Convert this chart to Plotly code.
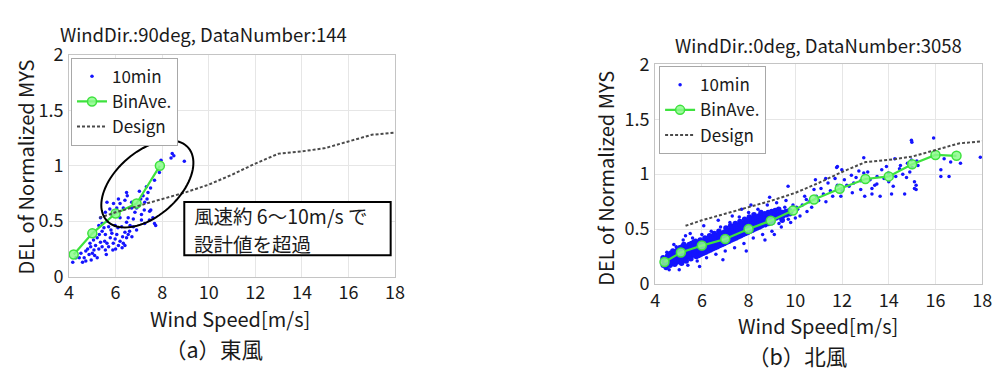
import numpy as np
import plotly.graph_objects as go

# ---------------- data ----------------
design_x = [5.3, 6.0, 7.0, 8.0, 9.0, 10.0, 11.0, 12.0, 13.0, 14.0, 15.0, 16.0, 17.0, 18.0]
design_y = [0.53, 0.58, 0.64, 0.70, 0.76, 0.83, 0.92, 1.02, 1.11, 1.13, 1.16, 1.22, 1.28, 1.30]

east_bin_x = [4.2, 5.0, 6.0, 6.9, 7.9]
east_bin_y = [0.20, 0.39, 0.57, 0.66, 1.00]

north_bin_x = [4.4, 5.1, 6.0, 7.0, 8.0, 8.95, 9.9, 10.8, 11.9, 13.0, 14.0, 15.0, 16.0, 16.9]
north_bin_y = [0.20, 0.287, 0.35, 0.41, 0.50, 0.577, 0.67, 0.77, 0.867, 0.956, 0.98, 1.09, 1.175, 1.167]

east_10min = [
    (8.43, 1.11), (8.50, 1.09), (8.38, 1.07), (8.95, 1.04), (7.95, 1.05), (7.88, 0.94),
    (7.67, 0.87), (7.50, 0.80), (7.32, 0.81), (7.39, 0.76), (7.18, 0.73), (7.25, 0.67),
    (7.08, 0.70), (6.47, 0.76), (6.50, 0.73), (6.40, 0.69), (6.69, 0.67), (6.12, 0.70),
    (6.19, 0.66), (5.91, 0.66), (5.63, 0.67), (6.33, 0.62), (6.90, 0.62), (6.69, 0.62),
    (6.83, 0.58), (7.11, 0.56), (7.46, 0.59), (7.60, 0.53), (7.67, 0.48), (7.11, 0.51),
    (7.25, 0.48), (6.76, 0.52), (6.54, 0.53), (6.47, 0.49), (6.76, 0.45), (6.90, 0.42),
    (6.19, 0.53), (5.84, 0.56), (5.98, 0.59), (5.56, 0.58), (5.35, 0.53), (5.28, 0.46),
    (5.42, 0.48), (5.63, 0.50), (5.70, 0.45), (5.98, 0.46), (6.26, 0.45), (7.51, 0.60),
    (7.23, 0.60), (7.72, 0.46), (5.84, 0.39), (6.05, 0.38), (6.19, 0.32), (6.33, 0.30),
    (6.47, 0.35), (6.54, 0.38), (6.40, 0.28), (6.12, 0.28), (5.98, 0.34), (5.77, 0.35),
    (5.56, 0.38), (5.42, 0.41), (5.53, 0.32), (5.63, 0.30), (5.35, 0.31), (5.21, 0.35),
    (5.14, 0.28), (5.28, 0.25), (5.42, 0.27), (5.56, 0.24), (5.07, 0.24), (4.93, 0.27),
    (5.00, 0.21), (4.86, 0.20), (4.72, 0.23), (4.65, 0.17), (4.51, 0.21), (4.44, 0.17),
    (4.72, 0.14), (4.58, 0.13), (4.30, 0.17), (4.16, 0.13), (5.21, 0.17), (5.10, 0.19),
    (4.90, 0.30), (5.05, 0.33), (5.70, 0.27), (5.90, 0.30), (6.00, 0.25), (6.60, 0.41),
    (6.30, 0.36), (5.30, 0.38), (4.80, 0.25), (5.50, 0.44), (6.10, 0.44), (6.40, 0.40),
    (4.95, 0.15), (5.60, 0.20), (5.80, 0.42), (6.70, 0.36), (7.02, 0.77), (7.35, 0.70),
    (6.05, 0.62), (5.75, 0.61), (7.45, 0.51), (6.62, 0.46), (5.88, 0.24), (6.28, 0.26),
]

north_10min_core = [
    (4.35, 0.17), (4.37, 0.21), (4.34, 0.24), (4.45, 0.19), (4.47, 0.15), (4.44, 0.23),
    (4.55, 0.18), (4.57, 0.22), (4.54, 0.26), (4.58, 0.20), (4.65, 0.20), (4.67, 0.24),
    (4.64, 0.17), (4.66, 0.28), (4.75, 0.22), (4.77, 0.19), (4.74, 0.26), (4.76, 0.30),
    (4.85, 0.21), (4.87, 0.25), (4.84, 0.18), (4.86, 0.29), (4.95, 0.23), (4.97, 0.27),
    (4.94, 0.20), (4.96, 0.31), (5.05, 0.24), (5.07, 0.28), (5.04, 0.21), (5.06, 0.33),
    (5.15, 0.26), (5.17, 0.22), (5.14, 0.30), (5.16, 0.34), (5.13, 0.19), (5.25, 0.25),
    (5.27, 0.29), (5.24, 0.23), (5.26, 0.33), (5.23, 0.36), (5.35, 0.27), (5.37, 0.31),
    (5.34, 0.24), (5.36, 0.34), (5.33, 0.21), (5.45, 0.28), (5.47, 0.25), (5.44, 0.32),
    (5.46, 0.36), (5.55, 0.29), (5.57, 0.26), (5.54, 0.33), (5.56, 0.37), (5.53, 0.23),
    (5.65, 0.30), (5.67, 0.27), (5.64, 0.34), (5.66, 0.38), (5.75, 0.31), (5.77, 0.28),
    (5.74, 0.35), (5.76, 0.25), (5.73, 0.39), (5.85, 0.32), (5.87, 0.29), (5.84, 0.36),
    (5.86, 0.26), (5.95, 0.33), (5.97, 0.30), (5.94, 0.37), (5.96, 0.27), (5.93, 0.40),
    (6.05, 0.34), (6.07, 0.31), (6.04, 0.38), (6.06, 0.28), (6.15, 0.35), (6.17, 0.32),
    (6.14, 0.39), (6.16, 0.29), (6.13, 0.42), (6.25, 0.36), (6.27, 0.33), (6.24, 0.40),
    (6.26, 0.30), (6.35, 0.37), (6.37, 0.34), (6.34, 0.41), (6.36, 0.31), (6.33, 0.44),
    (6.45, 0.38), (6.47, 0.35), (6.44, 0.42), (6.46, 0.32), (6.55, 0.39), (6.57, 0.36),
    (6.54, 0.43), (6.56, 0.33), (6.53, 0.46), (6.65, 0.40), (6.67, 0.37), (6.64, 0.44),
    (6.66, 0.34), (6.75, 0.41), (6.77, 0.38), (6.74, 0.45), (6.76, 0.35), (6.73, 0.48),
    (6.85, 0.42), (6.87, 0.39), (6.84, 0.46), (6.86, 0.36), (6.95, 0.43), (6.97, 0.40),
    (6.94, 0.47), (6.96, 0.37), (7.05, 0.44), (7.07, 0.41), (7.04, 0.48), (7.06, 0.38),
    (7.03, 0.51), (7.15, 0.45), (7.17, 0.42), (7.14, 0.49), (7.16, 0.39), (7.25, 0.46),
    (7.27, 0.43), (7.24, 0.50), (7.26, 0.40), (7.23, 0.53), (7.35, 0.47), (7.37, 0.44),
    (7.34, 0.51), (7.36, 0.41), (7.45, 0.48), (7.47, 0.45), (7.44, 0.52), (7.46, 0.42),
    (7.43, 0.55), (7.55, 0.49), (7.57, 0.46), (7.54, 0.53), (7.56, 0.43), (7.65, 0.50),
    (7.67, 0.47), (7.64, 0.54), (7.66, 0.44), (7.63, 0.57), (7.75, 0.51), (7.77, 0.48),
    (7.74, 0.55), (7.76, 0.45), (7.85, 0.52), (7.87, 0.49), (7.84, 0.56), (7.86, 0.46),
    (7.83, 0.59), (7.95, 0.53), (7.97, 0.50), (7.94, 0.57), (7.96, 0.47), (8.05, 0.54),
    (8.07, 0.51), (8.04, 0.58), (8.06, 0.48), (8.03, 0.61), (8.15, 0.55), (8.17, 0.52),
    (8.14, 0.59), (8.16, 0.49), (8.25, 0.56), (8.27, 0.53), (8.24, 0.60), (8.26, 0.50),
    (8.23, 0.63), (8.35, 0.57), (8.37, 0.54), (8.34, 0.61), (8.36, 0.51), (8.45, 0.58),
    (8.47, 0.55), (8.44, 0.62), (8.46, 0.52), (8.55, 0.59), (8.57, 0.56), (8.54, 0.63),
    (8.56, 0.53), (8.53, 0.65), (8.70, 0.60), (8.72, 0.57), (8.69, 0.64), (8.71, 0.54),
    (8.85, 0.61), (8.87, 0.58), (8.84, 0.65), (8.86, 0.55), (9.00, 0.62), (9.02, 0.59),
    (8.99, 0.66), (9.01, 0.56), (9.15, 0.63), (9.17, 0.60), (9.14, 0.67), (9.30, 0.64),
    (9.32, 0.61), (9.29, 0.68), (9.45, 0.65), (9.47, 0.62), (9.44, 0.58), (9.60, 0.66),
    (9.62, 0.63), (9.75, 0.67), (9.77, 0.64),
]

north_10min_sparse = [
    (14.97, 1.31), (14.99, 1.29), (15.92, 1.33), (17.92, 1.155), (16.37, 1.14), (16.65, 1.11),
    (17.07, 1.10), (16.23, 1.04), (16.23, 0.98), (16.58, 0.98), (11.77, 1.06), (11.99, 1.04),
    (10.86, 0.95), (12.72, 1.03), (12.93, 1.01), (14.26, 1.14), (14.97, 1.13), (15.25, 1.08),
    (13.70, 1.04), (13.98, 1.01), (14.46, 1.05), (14.76, 0.97), (15.10, 0.93), (15.17, 0.86),
    (15.17, 0.90), (14.19, 0.89), (14.68, 0.82), (13.49, 0.91), (13.28, 0.87), (13.28, 0.82),
    (13.63, 0.80), (12.97, 0.80), (12.30, 0.89), (12.44, 0.83), (12.00, 0.85), (11.95, 0.80),
    (11.60, 0.80), (11.31, 0.75), (11.10, 0.87), (10.47, 0.77), (12.93, 1.15), (11.80, 1.07),
    (9.69, 0.89), (14.12, 0.82), (15.10, 0.87), (14.50, 1.08), (14.80, 1.10), (15.00, 1.06),
    (14.60, 1.00), (14.30, 0.98), (14.90, 1.02), (15.20, 1.12), (13.80, 0.96), (13.50, 0.98),
    (13.20, 0.95), (12.80, 0.94), (12.50, 0.92), (12.20, 0.90), (12.60, 0.97), (12.10, 0.95),
    (11.80, 0.90), (11.50, 0.85), (11.20, 0.82), (10.90, 0.80), (10.60, 0.75), (10.30, 0.72),
    (10.10, 0.68), (10.40, 0.80), (10.70, 0.70), (11.00, 0.76), (11.40, 0.92), (12.40, 0.99),
    (13.10, 1.02), (13.40, 0.90), (14.00, 0.93), (13.90, 1.07), (12.80, 0.86), (11.70, 0.96),
    (10.20, 0.62), (10.50, 0.66), (10.80, 0.86), (11.30, 0.96), (4.30, 0.23), (4.50, 0.29),
    (4.60, 0.13), (4.90, 0.34), (5.03, 0.13), (5.20, 0.40), (5.40, 0.17), (5.60, 0.42),
    (5.80, 0.21), (6.00, 0.45), (6.20, 0.24), (6.40, 0.48), (6.60, 0.27), (6.80, 0.52),
    (7.00, 0.30), (7.20, 0.56), (7.40, 0.33), (7.60, 0.61), (7.80, 0.37), (8.00, 0.65),
    (8.20, 0.42), (8.40, 0.68), (8.60, 0.45), (8.80, 0.72), (9.00, 0.48), (9.20, 0.74),
    (9.40, 0.52), (9.60, 0.76), (9.80, 0.56), (9.90, 0.72), (10.00, 0.60), (9.55, 0.70),
    (9.70, 0.59), (9.85, 0.66), (10.05, 0.70), (9.30, 0.55), (6.08, 0.53), (5.50, 0.46),
    (7.30, 0.62), (8.90, 0.79), (8.10, 0.72), (7.90, 0.30), (6.90, 0.22), (5.90, 0.16),
    (8.70, 0.40), (9.10, 0.45), (5.30, 0.44), (4.80, 0.36), (7.70, 0.68), (6.70, 0.58),
]

x_ticks = [4, 6, 8, 10, 12, 14, 16, 18]
y_ticks = [0, 0.5, 1, 1.5, 2]
y_ticktext = ["0", "0.5", "1", "1.5", "2"]

# ---------------- layout helpers ----------------
W, H = 1006, 376
def px(x):
    return x / W
def py(y):
    return 1 - y / H

FONT = "Noto Sans CJK JP"
BLUE = "#1414ff"
GREEN = "#3ee23e"
DESIGN = "#4a4a4a"
TXT = "#1a1a1a"

fig = go.Figure()

def add_panel(pts_list, bin_x, bin_y, xa, ya, leg, core=None):
    if core is not None:
        fig.add_trace(go.Scatter(
            x=[p[0] for p in core], y=[p[1] for p in core], mode="markers",
            marker=dict(size=5.5, color=BLUE), showlegend=False, legend=leg,
            xaxis=xa, yaxis=ya, hoverinfo="skip"))
    fig.add_trace(go.Scatter(
        x=[p[0] for p in pts_list], y=[p[1] for p in pts_list], mode="markers",
        name="10min", marker=dict(size=3.5, color=BLUE), legend=leg,
        xaxis=xa, yaxis=ya))
    fig.add_trace(go.Scatter(
        x=bin_x, y=bin_y, mode="lines+markers", name="BinAve.",
        line=dict(color=GREEN, width=2.2),
        marker=dict(size=9, color="rgba(140,250,140,0.85)", line=dict(color=GREEN, width=1.5)),
        legend=leg, xaxis=xa, yaxis=ya))
    fig.add_trace(go.Scatter(
        x=design_x, y=design_y, mode="lines", name="Design",
        line=dict(color=DESIGN, width=2, dash="3px,2px"),
        legend=leg, xaxis=xa, yaxis=ya))

add_panel(east_10min, east_bin_x, east_bin_y, "x", "y", "legend")
add_panel(north_10min_sparse, north_bin_x, north_bin_y, "x2", "y2", "legend2", core=north_10min_core)

axis_common = dict(showgrid=True, gridcolor="#e6e6e6", gridwidth=1, zeroline=False,
                   showline=True, mirror=True, linecolor="#c4c4c4", linewidth=1,
                   ticks="", tickfont=dict(family=FONT, size=18, color=TXT))

legend_common = dict(xanchor="left", yanchor="top", bgcolor="white",
                     bordercolor="#a8a8a8", borderwidth=1,
                     font=dict(family=FONT, size=17, color=TXT),
                     tracegroupgap=0, itemwidth=30)

fig.update_layout(
    width=W, height=H, margin=dict(l=0, r=0, t=0, b=0),
    paper_bgcolor="white", plot_bgcolor="white",
    font=dict(family=FONT, color=TXT),
    xaxis=dict(domain=[px(65), px(396)], range=[4, 18], tickvals=x_ticks, anchor="y", **axis_common),
    yaxis=dict(domain=[py(281), py(43)], range=[0, 2], tickvals=y_ticks, ticktext=y_ticktext,
               anchor="x", ticklabelstandoff=1, **axis_common),
    xaxis2=dict(domain=[px(660), px(992)], range=[4, 18], tickvals=x_ticks, anchor="y2", **axis_common),
    yaxis2=dict(domain=[py(289), py(53)], range=[0, 2], tickvals=y_ticks, ticktext=y_ticktext,
                anchor="x2", ticklabelstandoff=1, **axis_common),
    legend=dict(x=px(67), y=py(46), **legend_common),
    legend2=dict(x=px(664), y=py(55), **legend_common),
    showlegend=True,
)

def ann(text, x, y, size, angle=0, xanchor="center", yanchor="middle", align="center"):
    fig.add_annotation(text=text, x=px(x), y=py(y), xref="paper", yref="paper",
                       showarrow=False, textangle=angle, xanchor=xanchor, yanchor=yanchor,
                       align=align, font=dict(family=FONT, size=size, color=TXT))

ann("WindDir.:90deg, DataNumber:144", 201, 20, 18.5)
ann("WindDir.:0deg, DataNumber:3058", 826, 32, 18.5)
ann("DEL of Normalized MYS", 21, 163, 20, angle=-90)
ann("DEL of Normalized MYS", 610, 175, 20, angle=-90)
ann("Wind Speed[m/s]", 228, 326, 20)
ann("Wind Speed[m/s]", 825, 334, 20)
ann("（a）東風", 212, 358, 21.5)
ann("（b）北風", 805, 366, 21.5)

# ellipse highlighting the east-wind exceedance
cx, cy, a, b, th = 144.5, 181.5, 57.0, 33.5, np.deg2rad(45)
t = np.linspace(0, 2 * np.pi, 90)
ex = cx + a * np.cos(t) * np.cos(th) - b * np.sin(t) * np.sin(th)
ey = cy - (a * np.cos(t) * np.sin(th) + b * np.sin(t) * np.cos(th))
path = "M " + " L ".join(f"{px(u):.5f},{py(v):.5f}" for u, v in zip(ex, ey)) + " Z"
fig.add_shape(type="path", path=path, xref="paper", yref="paper",
              line=dict(color="black", width=2), layer="above")

# callout box
fig.add_shape(type="rect", x0=px(182), x1=px(391.5), y0=py(258), y1=py(201),
              xref="paper", yref="paper", line=dict(color="black", width=2),
              fillcolor="white", layer="above")
ann("風速約 6〜10m/s で", 190, 215, 19.5, xanchor="left", align="left")
ann("設計値を超過", 190, 245.5, 19.5, xanchor="left", align="left")

fig.write_html("out.html")
